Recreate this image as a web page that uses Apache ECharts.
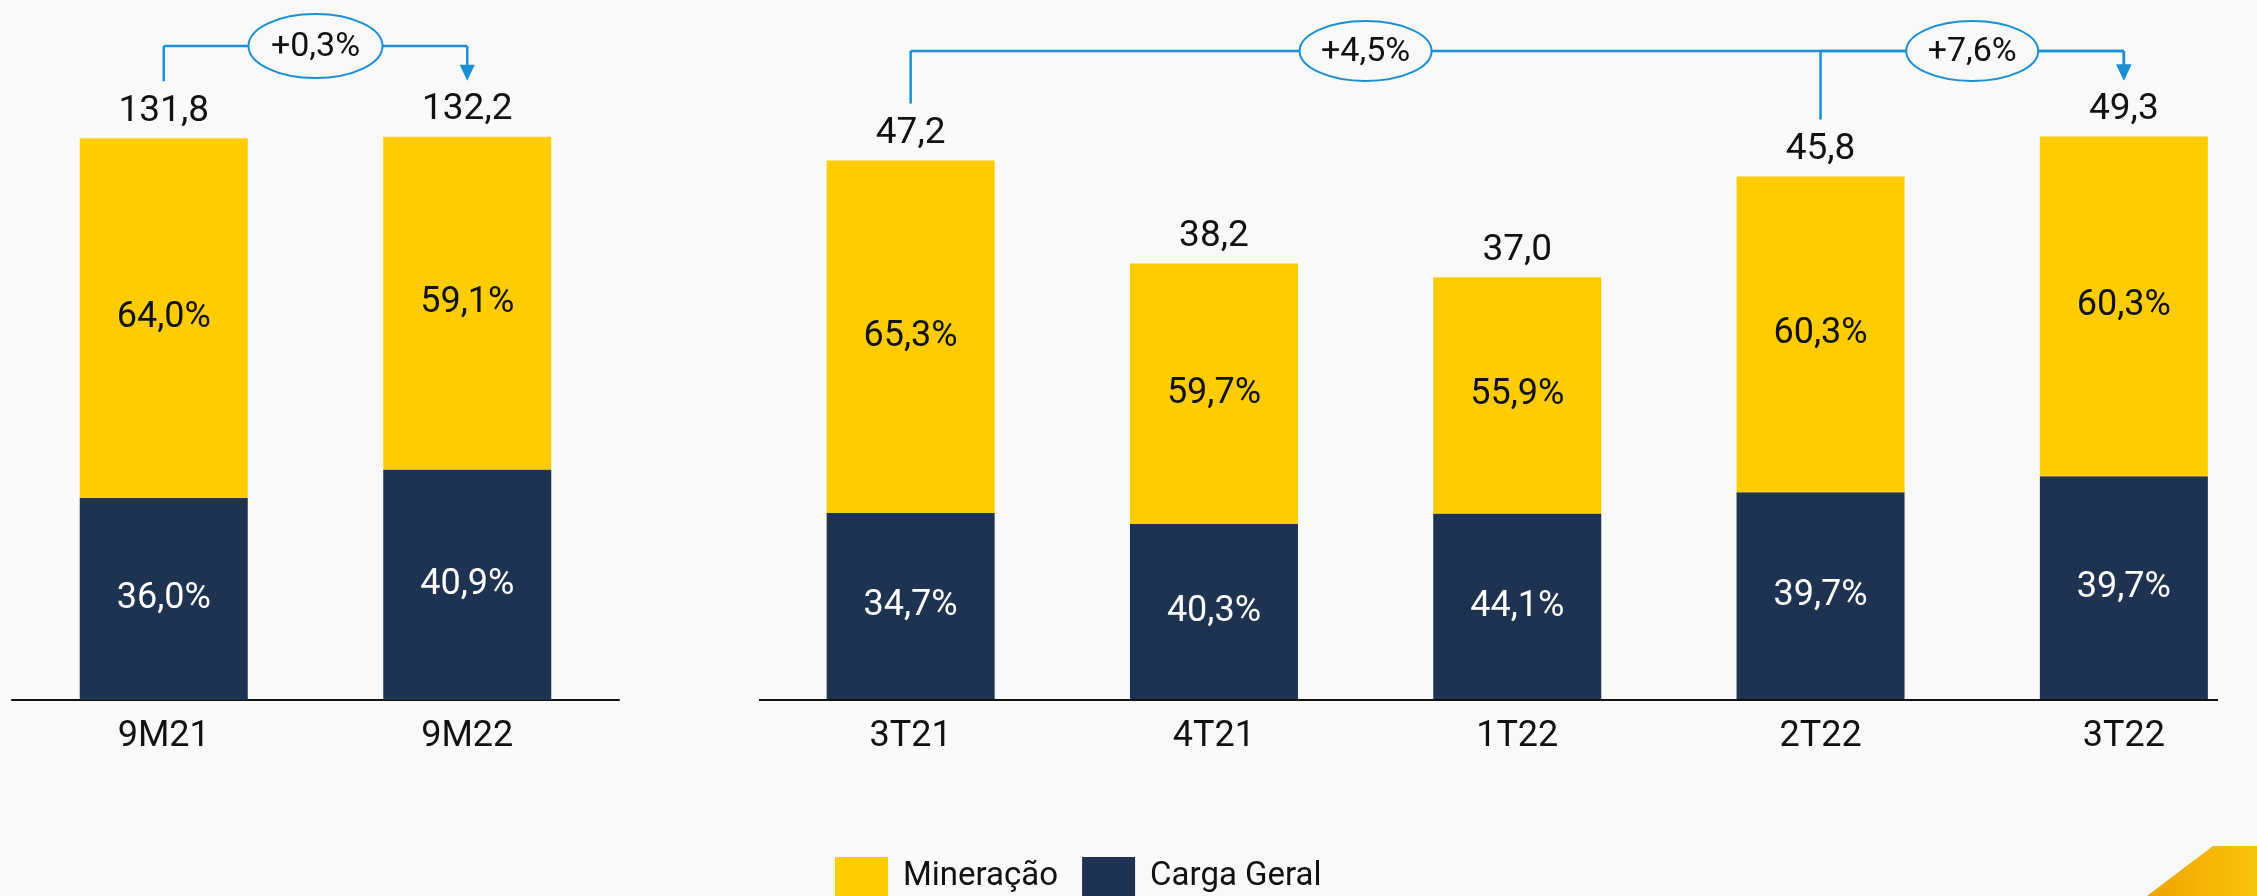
<!DOCTYPE html>
<html><head><meta charset="utf-8">
<script src="https://cdn.jsdelivr.net/npm/echarts@6/dist/echarts.min.js"></script>
<style>html,body{margin:0;padding:0;background:#f9f9f9;overflow:hidden}#c{width:2300px;height:896px}</style>
</head><body><div id="c"></div>
<script>
// ---- data ----
const periodsCum = ['9M21', '9M22'];
const totalsCum = [131.8, 132.2];
const miningCum = [64.0, 59.1];
const cargoCum = [36.0, 40.9];

const periodsQ = ['3T21', '4T21', '1T22', '2T22', '3T22'];
const totalsQ = [47.2, 38.2, 37.0, 45.8, 49.3];
const miningQ = [65.3, 59.7, 55.9, 60.3, 60.3];
const cargoQ = [34.7, 40.3, 44.1, 39.7, 39.7];

const growthCum = [{ from: 0, to: 1, mid: [0, 1], text: '+0,3%' }];
const growthQ = [
  { from: 0, to: 4, mid: [0, 3], text: '+4,5%' },
  { from: 3, to: 4, mid: [3, 4], text: '+7,6%' }
];

// ---- style ----
const YELLOW = '#FFCC00', NAVY = '#1E3252', BLUE = '#1B8FD2', BG = '#f9f9f9';
const NUMFONT = 'Roboto, "Liberation Sans", sans-serif';
const fmt = v => v.toFixed(1).replace('.', ',');

const chart = echarts.init(document.getElementById('c'), null, { renderer: 'canvas' });

function panelSeries(gi, totals, mining, cargo) {
  const seg = (pcts) => pcts.map((p, i) => +(totals[i] * p / 100).toFixed(3));
  const common = { type: 'bar', stack: 'p' + gi, xAxisIndex: gi, yAxisIndex: gi, barWidth: 168 };
  return [
    Object.assign({}, common, {
      name: 'Carga Geral', data: seg(cargo), itemStyle: { color: NAVY },
      label: { show: true, position: 'inside', color: '#fff', fontSize: 36, fontFamily: NUMFONT,
        formatter: p => fmt(cargo[p.dataIndex]) + '%' }
    }),
    Object.assign({}, common, {
      name: 'Mineração', data: seg(mining), itemStyle: { color: YELLOW },
      label: { show: true, position: 'inside', color: '#111', fontSize: 36, fontFamily: NUMFONT,
        formatter: p => fmt(mining[p.dataIndex]) + '%' }
    }),
    Object.assign({}, common, {
      name: 'total' + gi, data: totals.map(() => 0), itemStyle: { color: 'transparent' }, silent: true,
      label: { show: true, position: 'top', distance: 8, color: '#111', fontSize: 37, fontFamily: NUMFONT,
        formatter: p => fmt(totals[p.dataIndex]) }
    })
  ];
}

const catAxis = (gi, data, showLine) => ({
  type: 'category', gridIndex: gi, data: data,
  axisLine: { show: showLine, lineStyle: { color: '#111', width: 2 } },
  axisTick: { show: false },
  axisLabel: { color: '#111', fontSize: 36, fontFamily: NUMFONT, margin: 19 }
});
const valAxis = (gi, max) => ({
  type: 'value', gridIndex: gi, min: 0, max: max, show: false, splitLine: { show: false }
});

chart.setOption({
  backgroundColor: BG,
  animation: false,
  grid: [
    { left: 12, top: 100, width: 607, height: 600 },
    { left: 759, top: 100, width: 1516.5, height: 600 }
  ],
  xAxis: [catAxis(0, periodsCum, true), catAxis(1, periodsQ, false)],
  yAxis: [valAxis(0, 140.8), valAxis(1, 52.5)],
  legend: {
    data: ['Mineração', 'Carga Geral'], left: 830, top: 852,
    icon: 'rect', itemWidth: 53, itemHeight: 40, itemGap: 24,
    textStyle: { fontSize: 33, fontFamily: 'Roboto', color: '#111', padding: [0, 0, 0, 10] }
  },
  series: panelSeries(0, totalsCum, miningCum, cargoCum)
    .concat(panelSeries(1, totalsQ, miningQ, cargoQ))
});

// ---- annotations derived from data positions ----
const gfx = [];
const lineStyle = { stroke: BLUE, lineWidth: 2.5 };
function addBracket(gi, totals, growth, lineY, rx, ry) {
  const pt = (i, v) => chart.convertToPixel({ xAxisIndex: gi, yAxisIndex: gi }, [i, v]);
  growth.forEach(g => {
    const a = pt(g.from, totals[g.from]);
    const b = pt(g.to, totals[g.to]);
    gfx.push({ type: 'line', z: 10, shape: { x1: a[0], y1: lineY, x2: a[0], y2: a[1] - 57 }, style: lineStyle });
    gfx.push({ type: 'line', z: 10, shape: { x1: a[0], y1: lineY, x2: b[0], y2: lineY }, style: lineStyle });
    const tip = b[1] - 56;
    gfx.push({ type: 'line', z: 10, shape: { x1: b[0], y1: lineY, x2: b[0], y2: tip - 14 }, style: lineStyle });
    gfx.push({ type: 'polygon', z: 10, shape: { points: [[b[0] - 7.5, tip - 16], [b[0] + 7.5, tip - 16], [b[0], tip]] }, style: { fill: BLUE } });
  });
  growth.forEach(g => {
    const m1 = pt(g.mid[0], 0), m2 = pt(g.mid[1], 0);
    const cx = (m1[0] + m2[0]) / 2;
    gfx.push({ type: 'ellipse', z: 11, shape: { cx: cx, cy: lineY, rx: rx, ry: ry },
      style: { fill: BG, stroke: BLUE, lineWidth: 2 } });
    gfx.push({ type: 'text', z: 12, x: cx, y: lineY + 1,
      style: { text: g.text, fill: '#111', fontSize: 34, fontFamily: NUMFONT, align: 'center', verticalAlign: 'middle' } });
  });
}
addBracket(0, totalsCum, growthCum, 46, 67, 32);
addBracket(1, totalsQ, growthQ, 51, 66, 30);

// right panel baseline (ends before the last band edge, as in the original)
gfx.push({ type: 'line', z: 5, shape: { x1: 759, y1: 700, x2: 2218, y2: 700 }, style: { stroke: '#111', lineWidth: 2 } });
// decorative corner
gfx.push({ type: 'polygon', z: 1, shape: { points: [[2213, 846], [2257, 846], [2257, 896], [2147, 896]] },
  style: { fill: new echarts.graphic.LinearGradient(0, 0, 1, 0, [{ offset: 0, color: '#F0A300' }, { offset: 1, color: '#F8C40C' }]) } });

chart.setOption({ graphic: gfx });
</script>
</body></html>
